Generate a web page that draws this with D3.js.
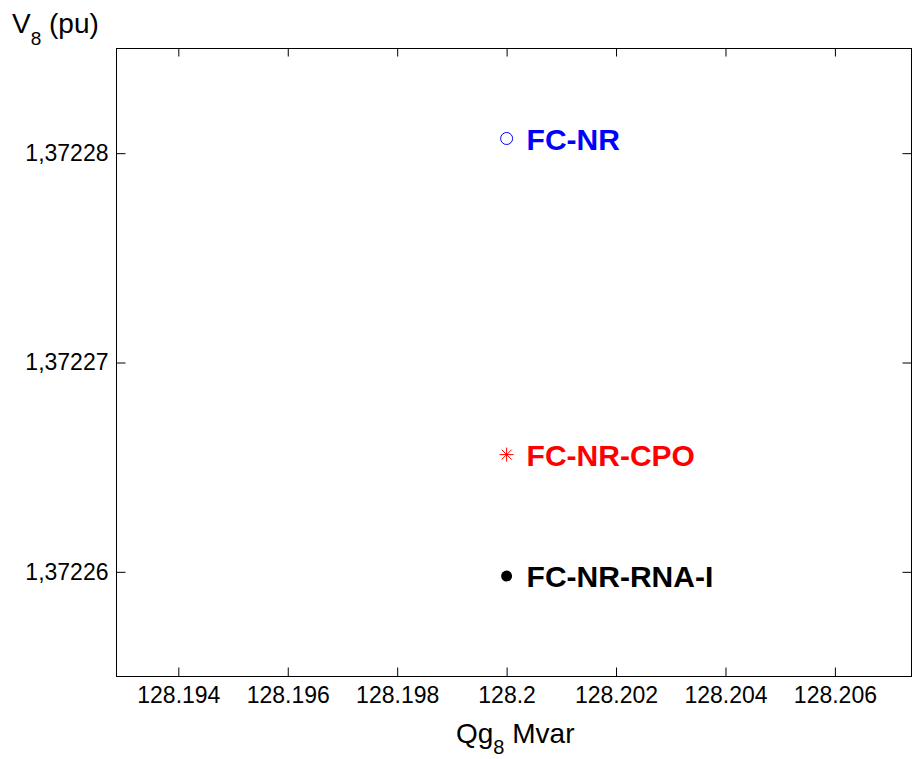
<html>
<head>
<script src="https://d3js.org/d3.v7.min.js"></script>
<style>
  body { margin: 0; background: white; }
  svg { font-family: "Liberation Sans", Arial, Helvetica, sans-serif; }
  .axis .domain { stroke: none; }
  .axis line { stroke: black; stroke-width: 1px; }
  .axis text { font-size: 23px; fill: black; }
</style>
</head>
<body>
<svg id="chart" width="912" height="759"></svg>
<script>
  // values
  const methods = ["FC-NR", "FC-NR-CPO", "FC-NR-RNA-I"];
  const qg8 = [128.2, 128.2, 128.2];
  const v8 = [1.3722807, 1.3722656, 1.3722598];
  const xTicks = [128.194, 128.196, 128.198, 128.2, 128.202, 128.204, 128.206];
  const yTicks = [1.37226, 1.37227, 1.37228];
  const xDomain = [128.19287, 128.20740];
  const yDomain = [1.372255, 1.372285];

  const colorOf = {"FC-NR": "#0000ff", "FC-NR-CPO": "#ff0000", "FC-NR-RNA-I": "#000000"};

  const svg = d3.select("#chart");
  const margin = {top: 48.5, right: 0.5, bottom: 82.5, left: 116.5};
  const width = +svg.attr("width");
  const height = +svg.attr("height");
  const chartWidth = width - margin.left - margin.right;
  const chartHeight = height - margin.top - margin.bottom;

  const x = d3.scaleLinear().domain(xDomain).range([0, chartWidth]);
  const y = d3.scaleLinear().domain(yDomain).range([chartHeight, 0]);

  const g = svg.append("g")
      .attr("transform", `translate(${margin.left},${margin.top})`);

  const commaLocale = d3.formatLocale({decimal: ",", thousands: ".", grouping: [3], currency: ["", ""]});
  const yFmt = commaLocale.format(".5f");
  const xFmt = d3.format(".3~f");

  // axes, ticks pointing inward like matlab
  g.append("g").attr("class", "axis")
      .attr("transform", `translate(0,${chartHeight})`)
      .call(d3.axisBottom(x).tickValues(xTicks).tickFormat(xFmt)
        .tickSizeInner(-9).tickSizeOuter(0).tickPadding(10));
  g.append("g").attr("class", "axis")
      .call(d3.axisTop(x).tickValues(xTicks).tickFormat("")
        .tickSizeInner(-8).tickSizeOuter(0));
  g.append("g").attr("class", "axis")
      .call(d3.axisLeft(y).tickValues(yTicks).tickFormat(yFmt)
        .tickSizeInner(-9).tickSizeOuter(0).tickPadding(8));
  g.append("g").attr("class", "axis")
      .attr("transform", `translate(${chartWidth},0)`)
      .call(d3.axisRight(y).tickValues(yTicks).tickFormat("")
        .tickSizeInner(-9).tickSizeOuter(0));

  // frame
  g.append("rect")
      .attr("width", chartWidth)
      .attr("height", chartHeight)
      .attr("fill", "none")
      .attr("stroke", "black")
      .attr("stroke-width", 1);

  // matlab '*' marker = plus + cross
  const starSymbol = {
    draw(ctx, size) {
      const r = Math.sqrt(size) / 2;
      const d = r * Math.SQRT1_2;
      ctx.moveTo(-r, 0); ctx.lineTo(r, 0);
      ctx.moveTo(0, -r); ctx.lineTo(0, r);
      ctx.moveTo(-d, -d); ctx.lineTo(d, d);
      ctx.moveTo(-d, d); ctx.lineTo(d, -d);
    }
  };

  const pts = methods.map((m, i) => ({name: m, qg: qg8[i], v: v8[i]}));

  const marks = g.selectAll("g.pt").data(pts)
    .join("g")
      .attr("class", "pt")
      .attr("transform", d => `translate(${x(d.qg)},${y(d.v)})`);

  marks.filter(d => d.name === "FC-NR").append("circle")
      .attr("r", 6)
      .attr("fill", "none")
      .attr("stroke", d => colorOf[d.name])
      .attr("stroke-width", 1);

  marks.filter(d => d.name === "FC-NR-CPO").append("path")
      .attr("d", d3.symbol().type(starSymbol).size(196))
      .attr("fill", "none")
      .attr("stroke", d => colorOf[d.name])
      .attr("stroke-width", 1);

  marks.filter(d => d.name === "FC-NR-RNA-I").append("circle")
      .attr("r", 5.5)
      .attr("fill", d => colorOf[d.name]);

  marks.append("text")
      .attr("x", 20)
      .attr("y", 11)
      .attr("fill", d => colorOf[d.name])
      .style("font-size", "30px")
      .style("font-weight", "bold")
      .text(d => d.name);

  // axis titles
  const yTitle = svg.append("text")
      .attr("x", 12)
      .attr("y", 33)
      .style("font-size", "28px");
  yTitle.append("tspan").text("V");
  yTitle.append("tspan").attr("dy", 12).style("font-size", "19px").text("8");
  yTitle.append("tspan").attr("dy", -12).text(" (pu)");

  const xTitle = svg.append("text")
      .attr("x", 456)
      .attr("y", 743)
      .style("font-size", "28px");
  xTitle.append("tspan").text("Qg");
  xTitle.append("tspan").attr("dy", 11).style("font-size", "20px").text("8");
  xTitle.append("tspan").attr("dy", -11).text(" Mvar");
</script>
</body>
</html>
